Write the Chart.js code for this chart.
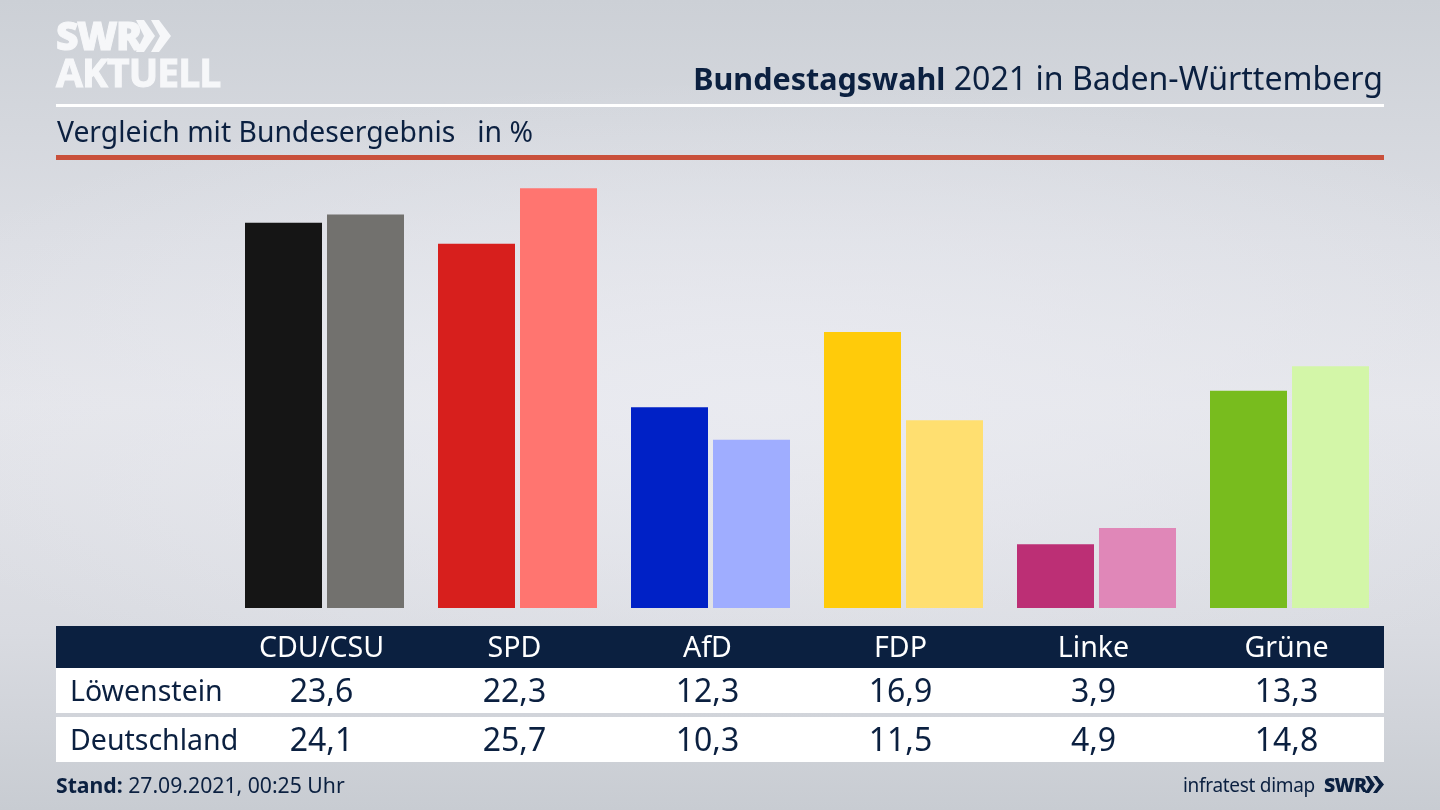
<!DOCTYPE html>
<html lang="de"><head><meta charset="utf-8">
<script src="https://cdn.jsdelivr.net/npm/chart.js@4"></script>
<style>
html,body{margin:0;padding:0;width:1440px;height:810px;overflow:hidden}
body{position:relative;font-family:"Noto Sans",sans-serif;color:#0b2040;
background:radial-gradient(ellipse 950px 320px at 760px 400px,rgba(234,235,241,.9),rgba(234,235,241,0) 100%),linear-gradient(180deg,#ccd0d6 0%,#dcdee4 30%,#e4e5ea 50%,#d9dbe1 78%,#c8ccd2 100%)}
.abs{position:absolute;white-space:nowrap}
canvas{position:absolute;left:0;top:0}
.logo{color:#f6f7f9;font-family:"Open Sans","Noto Sans",sans-serif;font-weight:800;line-height:1;-webkit-text-stroke:1px #f6f7f9}
.cell{position:absolute;transform:translateX(-50%);white-space:nowrap;text-align:center}
</style></head><body>
<canvas id="c" width="1440" height="810" style="width:1440px;height:810px"></canvas>

<div class="abs logo" style="left:56px;top:15px;font-size:39px;letter-spacing:-1.5px">SWR</div>
<svg class="abs" style="left:136px;top:19px" width="35" height="34" viewBox="0 0 35 34"><path d="M0 1h8l11 16L8 33H0l8-16zM15 1h8l12 16-12 16h-8l9-16z" fill="#f6f7f9"/></svg>
<div class="abs logo" style="left:56px;top:52px;font-size:39px;letter-spacing:-.9px;font-weight:700">AKTUELL</div>

<div class="abs" id="title" style="right:57px;top:57px;font-size:32.1px;line-height:42px"></div>
<div class="abs" style="left:56px;top:104px;width:1328px;height:3px;background:#fff"></div>
<div class="abs" id="sub" style="left:57px;top:112px;font-size:28.3px;line-height:38px;white-space:pre"></div>
<div class="abs" style="left:56px;top:155px;width:1328px;height:5px;background:#c9503b"></div>

<div class="abs" style="left:56px;top:626px;width:1328px;height:42px;background:#0b2040"></div>
<div class="abs" style="left:56px;top:668px;width:1328px;height:45px;background:#fff"></div>
<div class="abs" style="left:56px;top:717px;width:1328px;height:45px;background:#fff"></div>
<div id="table"></div>

<div class="abs" id="stand" style="left:56px;top:771px;font-size:21.2px;line-height:28px"></div>
<div class="abs" id="source" style="left:1183px;top:771px;font-size:19px;line-height:28px;letter-spacing:-.3px"></div>
<div class="abs" id="swr" style="left:1324px;top:772px;font-size:19.5px;line-height:26px;font-weight:800;letter-spacing:-.8px;font-family:'Open Sans','Noto Sans',sans-serif"></div>
<svg class="abs" style="left:1365px;top:776px" width="19" height="17" viewBox="0 0 19 17"><path d="M0 0h4l6 8.500-6 8.500H0l5-8.500zM8 0h4l7 8.500-7 8.500H8l6-8.500z" fill="#0b2040"/></svg>

<script>
const parties = ["CDU/CSU","SPD","AfD","FDP","Linke","Grüne"];
const lowenstein = [23.6,22.3,12.3,16.9,3.9,13.3];
const deutschland = [24.1,25.7,10.3,11.5,4.9,14.8];
const colorsLocal = ["#151515","#d71f1d","#0021c6","#ffcb0a","#bc2f75","#78bc1e"];
const colorsFederal = ["#72716e","#ff7570","#9fadff","#ffdf70","#e087b8","#d3f6a8"];
const rowLocal = "Löwenstein";
const rowFederal = "Deutschland";
const titleBold = "Bundestagswahl";
const titleRest = " 2021 in Baden-Württemberg";
const subtitle = "Vergleich mit Bundesergebnis   in %";
const standLabel = "Stand:";
const standText = " 27.09.2021, 00:25 Uhr";
const sourceText = "infratest dimap";
const swrText = "SWR";
const fmt = v => v.toFixed(1).replace(".", ",");

document.getElementById("title").innerHTML = "<b style='font-size:30.5px'>"+titleBold+"</b>"+titleRest;
document.getElementById("sub").textContent = subtitle;
document.getElementById("stand").innerHTML = "<b>"+standLabel+"</b>"+standText;
document.getElementById("source").textContent = sourceText;
document.getElementById("swr").textContent = swrText;

const chart = new Chart(document.getElementById("c"),{
  type:"bar",
  data:{labels:parties,datasets:[
    {label:rowLocal,data:lowenstein,backgroundColor:colorsLocal},
    {label:rowFederal,data:deutschland,backgroundColor:colorsFederal}
  ]},
  options:{
    responsive:false,animation:false,devicePixelRatio:1,
    layout:{padding:{left:228,right:54,top:150.8,bottom:202}},
    categoryPercentage:164/193,barPercentage:77/82,
    plugins:{legend:{display:false},title:{display:false},tooltip:{enabled:false}},
    scales:{x:{display:false},y:{display:false,min:0,max:28}}
  }
});

const t = document.getElementById("table");
function cell(txt,x,top,size,color){
  const d=document.createElement("div");d.className="cell";d.textContent=txt;
  d.style.cssText="left:"+x+"px;top:"+top+"px;font-size:"+size+"px;line-height:40px;color:"+color;
  t.appendChild(d);
}
function label(txt,top){
  const d=document.createElement("div");d.className="abs";d.textContent=txt;
  d.style.cssText="left:70px;top:"+top+"px;font-size:28.5px;line-height:40px";
  t.appendChild(d);
}
label(rowLocal,670);label(rowFederal,719);
parties.forEach((p,i)=>{
  const x=chart.scales.x.getPixelForValue(i)-3;
  cell(p,x,626,28.6,"#fff");
  cell(fmt(lowenstein[i]),x,670,32,"#0b2040");
  cell(fmt(deutschland[i]),x,719,32,"#0b2040");
});
</script>
</body></html>
